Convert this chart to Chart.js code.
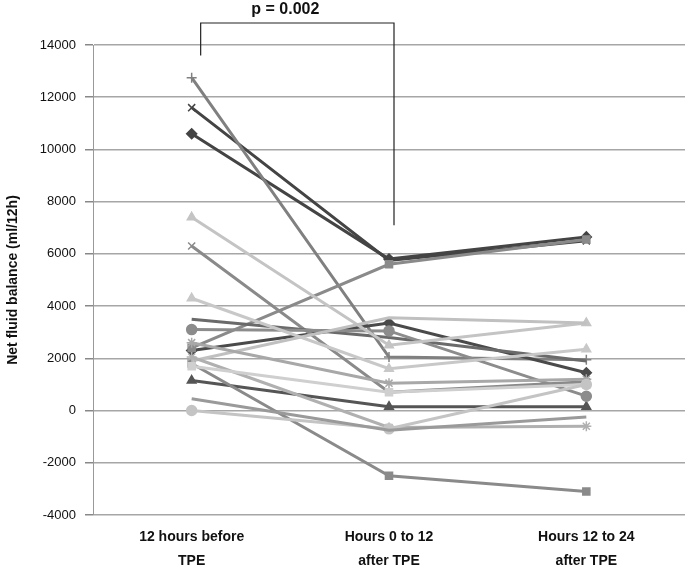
<!DOCTYPE html>
<html>
<head>
<meta charset="utf-8">
<script src="https://cdn.jsdelivr.net/npm/chart.js@4/dist/chart.umd.min.js"></script>
<style>
  body { margin: 0; background: #fff; }
  #wrap { width: 685px; height: 567px; }
</style>
</head>
<body>
<div id="wrap"><canvas id="graphique" width="685" height="567"></canvas></div>
<script>
// categories (two lines each)
const categories = [['12 hours before', 'TPE'], ['Hours 0 to 12', 'after TPE'], ['Hours 12 to 24', 'after TPE']];
const yTicks = [-4000, -2000, 0, 2000, 4000, 6000, 8000, 10000, 12000, 14000];

// net fluid balance per patient (ml/12h)
const patient1 = [10600, 5800, 6650];
const patient2 = [11600, 5750, 6500];
const patient3 = [12750, 2050, 1950];
const patient4 = [2400, 5600, 6550];
const patient5 = [1800, -2500, -3100];
const patient6 = [7400, 2500, 3350];
const patient7 = [6300, 700, 1100];
const patient8 = [4300, 1600, 2350];
const patient9 = [3500, 2800, 1900];
const patient10 = [3100, 3050, 550];
const patient11 = [2600, 1050, 1200];
const patient12 = [2300, 3350, 1450];
const patient13 = [1900, 3550, 3350];
const patient14 = [2050, -650, -600];
const patient15 = [450, -750, -250];
const patient16 = [0, -700, 1000];
const patient17 = [1700, 700, 1000];
const patient18 = [1150, 150, 150];

// bracket for the comparison
const pLabel = 'p = 0.002';
const bracketLeftEnd = 13600;
const bracketRightEnd = 7100;

const allSeries = [patient15, patient16, patient17, patient14, patient11, patient8, patient13, patient6,
                   patient10, patient9, patient7, patient5, patient4, patient18, patient12, patient3, patient2, patient1];

// look of each line (same order as allSeries)
const styles = [
  { color: '#9a9a9a', marker: false },
  { color: '#c4c4c4', marker: 'circle' },
  { color: '#cfcfcf', marker: 'rect' },
  { color: '#b0b0b0', marker: 'star' },
  { color: '#a8a8a8', marker: 'star' },
  { color: '#c8c8c8', marker: 'triangle' },
  { color: '#c0c0c0', marker: false },
  { color: '#c4c4c4', marker: 'triangle' },
  { color: '#8c8c8c', marker: 'circle' },
  { color: '#6a6a6a', marker: false },
  { color: '#8a8a8a', marker: 'crossRot' },
  { color: '#8a8a8a', marker: 'rect' },
  { color: '#8a8a8a', marker: 'rect' },
  { color: '#555555', marker: 'triangle' },
  { color: '#4a4a4a', marker: 'rectRot' },
  { color: '#808080', marker: 'cross' },
  { color: '#444444', marker: 'crossRot' },
  { color: '#444444', marker: 'rectRot' }
];

const datasets = allSeries.map((vals, i) => ({
  data: vals,
  borderColor: styles[i].color,
  backgroundColor: styles[i].color,
  borderWidth: 3,
  pointStyle: styles[i].marker,
  pointRadius: styles[i].marker ? 5 : 0,
  pointBorderWidth: 1.5,
  tension: 0
}));

const bracketPlugin = {
  id: 'bracket',
  afterDraw(chart) {
    const ctx = chart.ctx;
    const x = chart.scales.x;
    const y = chart.scales.y;
    const x1 = x.getPixelForValue(0) + 9;
    const x2 = x.getPixelForValue(1) + 5;
    const top = y.getPixelForValue(yTicks[yTicks.length - 1]) - 22;
    ctx.save();
    ctx.strokeStyle = '#222';
    ctx.lineWidth = 1.2;
    ctx.beginPath();
    ctx.moveTo(x1, y.getPixelForValue(bracketLeftEnd));
    ctx.lineTo(x1, top);
    ctx.lineTo(x2, top);
    ctx.lineTo(x2, y.getPixelForValue(bracketRightEnd));
    ctx.stroke();
    ctx.fillStyle = '#111';
    ctx.font = 'bold 16px "Liberation Sans", Arial, sans-serif';
    ctx.textAlign = 'center';
    ctx.textBaseline = 'middle';
    ctx.fillText(pLabel, (x1 + x2) / 2 - 12, top - 13);
    ctx.restore();
  }
};

new Chart(document.getElementById('graphique').getContext('2d'), {
  type: 'line',
  data: { labels: categories, datasets: datasets },
  options: {
    responsive: false,
    animation: false,
    layout: { autoPadding: false, padding: { top: 45, right: 0, bottom: 0, left: 0 } },
    plugins: { legend: { display: false }, tooltip: { enabled: false } },
    scales: {
      x: {
        offset: true,
        grid: { display: false, drawTicks: false, offset: true },
        border: { display: false },
        ticks: {
          color: '#111',
          padding: 10,
          maxRotation: 0,
          font: { family: '"Liberation Sans", Arial, sans-serif', size: 14, weight: 'bold', lineHeight: 1.7 }
        },
        afterFit: s => { s.height = 52; s.paddingLeft = 0; s.paddingRight = 0; }
      },
      y: {
        min: yTicks[0],
        max: yTicks[yTicks.length - 1],
        afterBuildTicks: s => { s.ticks = yTicks.map(v => ({ value: v })); },
        grid: { color: '#a6a6a6', lineWidth: 1.5, tickLength: 8, tickColor: '#888' },
        border: { display: true, color: '#999', width: 1 },
        ticks: {
          color: '#111',
          padding: 9,
          callback: v => String(v),
          font: { family: '"Liberation Sans", Arial, sans-serif', size: 13 }
        },
        title: {
          display: true,
          text: 'Net fluid balance (ml/12h)',
          color: '#111',
          padding: { top: 5, bottom: 0 },
          font: { family: '"Liberation Sans", Arial, sans-serif', size: 14, weight: 'bold' }
        },
        afterFit: s => { s.width = 93; }
      }
    }
  },
  plugins: [bracketPlugin]
});
</script>
</body>
</html>
